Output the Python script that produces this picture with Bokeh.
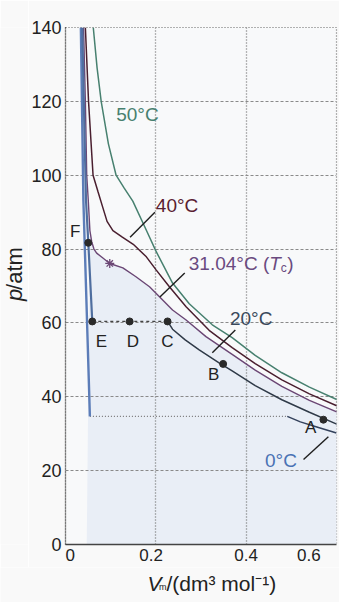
import math
from bokeh.plotting import figure
from bokeh.layouts import column, row
from bokeh.models import FixedTicker, Range1d
from bokeh.core.properties import value
from bokeh.embed import file_html
from bokeh.resources import INLINE

FONT = "Liberation Sans"

# ---------------- data ----------------
x_ticks = [0, 0.2, 0.4, 0.6]
x_tick_labels = ["0", "0.2", "0.4", "0.6"]
y_ticks = [0, 20, 40, 60, 80, 100, 120, 140]

# 50 °C isotherm
v_50 = [0.0615, 0.070, 0.079, 0.095, 0.112, 0.130, 0.149, 0.179, 0.200, 0.237,
        0.274, 0.325, 0.369, 0.420, 0.479, 0.540, 0.602]
p_50 = [140, 129, 120, 108.5, 100, 96.5, 93.0, 85.1, 79.5, 70.8,
        65.2, 59.5, 56.0, 51.2, 46.5, 42.6, 39.2]

# 40 °C isotherm
v_40 = [0.044, 0.051, 0.061, 0.072, 0.082, 0.092, 0.105, 0.125, 0.150, 0.179,
        0.201, 0.230, 0.267, 0.318, 0.369, 0.420, 0.479, 0.540, 0.604]
p_40 = [140, 120, 100, 95.5, 91.5, 87.5, 85.0, 83.3, 81.3, 77.9,
        74.3, 69.8, 64.4, 58.0, 53.3, 49.0, 44.6, 40.8, 37.4]

# 31.04 °C (critical) isotherm
v_31 = [0.040, 0.044, 0.047, 0.0505, 0.054, 0.058, 0.063, 0.069, 0.0835, 0.098,
        0.127, 0.156, 0.186, 0.208, 0.237, 0.267, 0.311, 0.369, 0.420, 0.479,
        0.540, 0.604]
p_31 = [140, 120, 100, 93.0, 85.0, 82.0, 80.0, 78.9, 77.5, 76.1,
        74.9, 72.5, 69.8, 67.1, 63.5, 60.8, 56.3, 51.5, 47.2, 42.8,
        39.0, 35.7]

# 20 °C isotherm: gas branch, tie line, liquid branch
v_20_gas = [0.226, 0.237, 0.265, 0.296, 0.340, 0.369, 0.420, 0.479, 0.540, 0.604]
p_20_gas = [60.4, 58.3, 55.4, 52.7, 49.2, 47.0, 43.0, 39.2, 35.8, 32.4]
v_20_tie = [0.0593, 0.226]
p_20_tie = [60.4, 60.4]
v_20_liq = [0.037, 0.0454, 0.0505, 0.0593]
p_20_liq = [140, 93.2, 81.7, 60.4]

# 0 °C isotherm: liquid branch, tie line, gas branch
v_0_liq = [0.034, 0.0396, 0.0473, 0.054]
p_0_liq = [140, 93.2, 62.0, 34.7]
v_0_tie = [0.054, 0.491]
p_0_tie = [34.7, 34.7]
v_0_gas = [0.491, 0.520, 0.560, 0.600]
p_0_gas = [34.7, 33.2, 31.7, 30.2]

# lettered states and critical point
point_names = ["A", "B", "C", "D", "E", "F"]
point_v = [0.571, 0.349, 0.226, 0.142, 0.0593, 0.0505]
point_p = [33.8, 48.9, 60.4, 60.4, 60.4, 81.7]
point_label_v = [0.543, 0.328, 0.2255, 0.149, 0.0795, 0.0212]
point_label_p = [31.6, 45.9, 54.9, 54.9, 54.9, 84.7]
crit_v = [0.098]
crit_p = [76.1]

# isotherm labels
iso_text = ["50°C", "40°C", "20°C", "0°C"]
iso_v = [0.1123, 0.200, 0.364, 0.4417]
iso_p = [116.4, 91.9, 61.3, 22.8]
crit_label_v = 0.273
crit_label_p = 76.2

# leader lines (label -> curve)
lead_v0 = [0.143, 0.209, 0.325, 0.527]
lead_p0 = [83.2, 67.0, 51.9, 23.0]
lead_v1 = [0.198, 0.264, 0.376, 0.582]
lead_p1 = [90.0, 73.5, 58.1, 29.2]

# ---------------- styling ----------------
C50 = "#47806f"
C40 = "#4a1f2f"
C31 = "#6b4775"
C20 = "#2f3a48"
CLIQ = "#5c7db8"
TXT = "#222222"
BORDER = "#f9f9f9"
NB = "\u00a0"

YT_W = 28          # width of the strip holding the y title
MAIN_H = 567       # height of the main figure
XT_H = 602 - MAIN_H

p = figure(width=339 - YT_W, height=MAIN_H, output_backend="svg", toolbar_location=None,
           x_range=Range1d(0, 0.6), y_range=Range1d(0, 140),
           min_border_left=62 - YT_W, min_border_right=3, min_border_top=27,
           min_border_bottom=MAIN_H - 545)

p.background_fill_color = "#f8f9fa"
p.border_fill_color = BORDER
p.outline_line_color = "#666666"
p.outline_line_dash = "1 2"
p.outline_line_width = 1.2

# axes
p.xaxis.ticker = FixedTicker(ticks=x_ticks)
# small non-breaking-space padding nudges each label the way the original sets them
pads = [(2, 0), (0, 2), (0, 0), (0, 4)]
p.xaxis.major_label_overrides = {t: NB * a + lab + NB * b
                                 for t, lab, (a, b) in zip(x_ticks, x_tick_labels, pads)}
p.yaxis.ticker = FixedTicker(ticks=y_ticks)
for ax in (p.xaxis[0], p.yaxis[0]):
    ax.major_tick_in = 0
    ax.major_tick_out = 0
    ax.minor_tick_line_color = None
    ax.axis_line_color = "#444444"
    ax.axis_line_width = 1.3
    ax.major_label_text_font = FONT
    ax.major_label_text_color = TXT
p.yaxis.axis_line_dash = "1 1"
p.yaxis.major_label_standoff = 4
p.yaxis.major_label_text_font_size = "18px"
p.xaxis.major_label_standoff = 1
p.xaxis.major_label_text_font_size = "17px"

# grid
p.xgrid.ticker = FixedTicker(ticks=[0.2, 0.4])
p.ygrid.ticker = FixedTicker(ticks=[20, 40, 60, 80, 100, 120])
p.xgrid.grid_line_color = "#6f6f6f"
p.xgrid.grid_line_dash = "1 2"
p.xgrid.grid_line_width = 1.3
p.ygrid.grid_line_color = "#8a8a8a"
p.ygrid.grid_line_dash = "3 2"
p.ygrid.grid_line_width = 1.1

# shaded region below the critical isotherm
i0 = v_31.index(0.054)
shade_x = [0.047] + v_31[i0:] + [v_31[-1], 0.047]
shade_y = [0] + p_31[i0:] + [0, 0]
p.patch(shade_x, shade_y, fill_color="#e9eef6", line_color=None, level="underlay")

# tie lines
p.line(v_20_tie, p_20_tie, line_color="#444444", line_dash="3 3", line_width=1.3)
p.line(v_0_tie, p_0_tie, line_color="#777777", line_dash="1 2", line_width=1.3)

# isotherms
p.line(v_50, p_50, line_color=C50, line_width=1.5)
p.line(v_40, p_40, line_color=C40, line_width=1.5)
p.line(v_31, p_31, line_color=C31, line_width=1.4)
p.line(v_20_gas, p_20_gas, line_color=C20, line_width=1.5)
p.line(v_0_gas, p_0_gas, line_color="#34425c", line_width=1.5)
p.line(v_0_liq, p_0_liq, line_color=CLIQ, line_width=2.4)
p.line(v_20_liq, p_20_liq, line_color="#4f6e9f", line_width=2.2)

# leader lines
p.segment(x0=lead_v0, y0=lead_p0, x1=lead_v1, y1=lead_p1,
          line_color="#1e1e1e", line_width=1.4)

# points
p.scatter(point_v, point_p, size=7, fill_color="#2a2a2a", line_color="#2a2a2a")
p.scatter(crit_v, crit_p, marker="asterisk", size=9, line_color=C31, line_width=1.3)

# point letters
p.text(point_label_v, point_label_p, text=point_names, text_font=value(FONT),
       text_font_size="17px", text_color=TXT, text_align="center",
       text_baseline="middle")

# isotherm labels
p.text(iso_v, iso_p, text=iso_text, text_font=value(FONT), text_font_size="19px",
       text_color=[C50, "#5a2030", "#3a4a5c", "#4a72b4"], text_align="left",
       text_baseline="middle")
CCRIT = "#6a4a80"
crit_parts = [("31.04°C (", 0, 0, "19px", "normal"),
              ("T", 80.5, 0, "19px", "italic"),
              ("c", 92, 5, "12px", "normal"),
              (")", 98.5, 0, "19px", "normal")]
for txt, dx, dy, fs, st in crit_parts:
    p.text([crit_label_v], [crit_label_p], text=[txt], x_offset=dx, y_offset=dy,
           text_font=value(FONT), text_font_size=fs, text_font_style=st,
           text_color=CCRIT, text_align="left", text_baseline="middle")


def strip(w, h, yr):
    f = figure(width=w, height=h, output_backend="svg", toolbar_location=None,
               x_range=Range1d(0, w), y_range=yr, x_axis_location=None,
               y_axis_location=None, min_border=0)
    f.min_border_left = f.min_border_right = f.min_border_top = f.min_border_bottom = 0
    f.outline_line_color = None
    f.grid.visible = False
    f.background_fill_color = BORDER
    f.border_fill_color = BORDER
    return f


# y-axis title strip (pixel coordinates, y downwards); centred in the strip
YFS = 22
yt = strip(YT_W, MAIN_H, Range1d(MAIN_H, 0))
yt.text([YT_W / 2], [300], text=["p"], angle=math.pi / 2, text_font=value(FONT),
        text_font_size=f"{YFS}px", text_font_style="italic", text_color=TXT,
        text_align="left", text_baseline="middle")
yt.text([YT_W / 2], [300 - 0.556 * YFS], text=["/atm"], angle=math.pi / 2,
        text_font=value(FONT), text_font_size=f"{YFS}px", text_color=TXT,
        text_align="left", text_baseline="middle")

# x-axis title strip (pixel coordinates, y downwards from the strip top)
xt = strip(339, XT_H, Range1d(XT_H, 0))
base = 583 - MAIN_H
xt.text([147], [base], text=["V"], text_font=value(FONT), text_font_size="21px",
        text_font_style="italic", text_color=TXT, text_align="left",
        text_baseline="alphabetic")
xt.text([158.5], [base + 3], text=["m"], text_font=value(FONT), text_font_size="9px",
        text_color=TXT, text_align="left", text_baseline="alphabetic")
xt.text([166], [base], text=["/(dm³ mol⁻¹)"], text_font=value(FONT),
        text_font_size="21px", text_color=TXT, text_align="left",
        text_baseline="alphabetic")

layout = column(row(yt, p, spacing=0), xt, spacing=0)
open("out.html", "w").write(file_html(layout, INLINE))
